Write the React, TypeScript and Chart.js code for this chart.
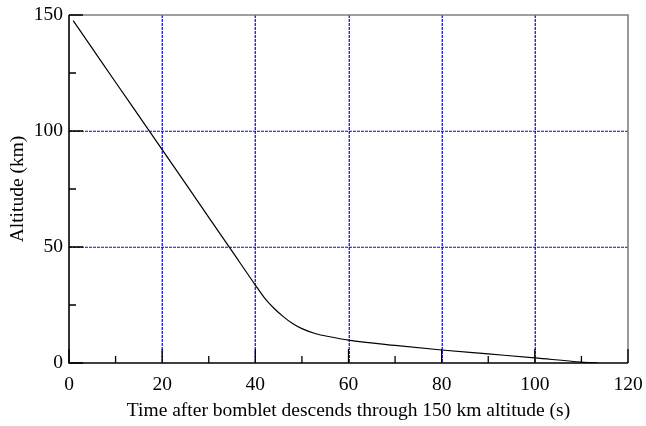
import React, { useEffect, useRef } from "react";
import { Chart, registerables } from "chart.js";

Chart.register(...registerables);

const timeS = [0.9, 5, 10, 15, 20, 25, 30, 35, 40, 42, 44, 46, 48, 50, 53, 56, 60, 70, 80, 90, 100, 110, 113.6];
const altitudeKm = [147.6, 135.6, 121, 106.5, 92, 77.4, 62.8, 48.2, 33.6, 28, 23.6, 20, 17, 14.8, 12.6, 11.3, 9.9, 7.6, 5.6, 3.9, 2.2, 0.4, 0];
const xMajorTicks = [0, 20, 40, 60, 80, 100, 120];
const xMinorTicks = [10, 30, 50, 70, 90, 110];
const yMajorTicks = [0, 50, 100, 150];
const yMinorTicks = [25, 75, 125];
const xGridValues = [20, 40, 60, 80, 100];
const yGridValues = [50, 100];

const FONT = "'Times New Roman', 'Liberation Serif', serif";
const FONT_SIZE = 19.5;
const GRID_BLUE = "#0000ff";

const framePlugin = {
  id: "frameTicks",
  beforeDatasetsDraw(chart: any) {
    const { ctx, chartArea, scales } = chart;
    const { left, right, top, bottom } = chartArea;
    ctx.save();
    ctx.strokeStyle = GRID_BLUE;
    ctx.lineWidth = 1.2;
    ctx.setLineDash([3, 1]);
    ctx.beginPath();
    for (const v of xGridValues) {
      const px = Math.round(scales.x.getPixelForValue(v)) + 0.25;
      ctx.moveTo(px, top);
      ctx.lineTo(px, bottom);
    }
    for (const v of yGridValues) {
      const py = Math.round(scales.y.getPixelForValue(v)) + 0.25;
      ctx.moveTo(left, py);
      ctx.lineTo(right, py);
    }
    ctx.stroke();
    ctx.restore();
  },
  afterDatasetsDraw(chart: any) {
    const { ctx, chartArea, scales } = chart;
    const { left, right, top, bottom } = chartArea;
    const xs = scales.x;
    const ys = scales.y;
    ctx.save();
    ctx.strokeStyle = "#808080";
    ctx.lineWidth = 1.6;
    ctx.beginPath();
    ctx.moveTo(left, top);
    ctx.lineTo(right, top);
    ctx.lineTo(right, bottom);
    ctx.stroke();
    ctx.strokeStyle = "#000";
    ctx.lineWidth = 1.6;
    ctx.beginPath();
    ctx.moveTo(left, top);
    ctx.lineTo(left, bottom);
    ctx.lineTo(right, bottom);
    ctx.stroke();
    ctx.lineWidth = 1.3;
    ctx.beginPath();
    for (const v of xMajorTicks) {
      const px = xs.getPixelForValue(v);
      ctx.moveTo(px, bottom);
      ctx.lineTo(px, bottom - 14);
    }
    for (const v of xMinorTicks) {
      const px = xs.getPixelForValue(v);
      ctx.moveTo(px, bottom);
      ctx.lineTo(px, bottom - 7);
    }
    for (const v of yMajorTicks) {
      const py = ys.getPixelForValue(v);
      ctx.moveTo(left, py);
      ctx.lineTo(left + 14, py);
    }
    for (const v of yMinorTicks) {
      const py = ys.getPixelForValue(v);
      ctx.moveTo(left, py);
      ctx.lineTo(left + 7, py);
    }
    ctx.stroke();
    ctx.restore();
  },
};

export default function App() {
  const ref = useRef<HTMLCanvasElement | null>(null);

  useEffect(() => {
    document.body.style.margin = "0";
    const canvas = ref.current!;
    const chart = new Chart(canvas, {
      type: "line",
      data: {
        datasets: [
          {
            data: timeS.map((t, i) => ({ x: t, y: altitudeKm[i] })),
            borderColor: "#000",
            borderWidth: 1.2,
            pointRadius: 0,
            fill: false,
            cubicInterpolationMode: "monotone",
          },
        ],
      },
      options: {
        animation: false,
        responsive: false,
        maintainAspectRatio: false,
        layout: { padding: { top: 15, right: 18, left: 0, bottom: 0 } },
        plugins: { legend: { display: false }, tooltip: { enabled: false } },
        scales: {
          x: {
            type: "linear",
            min: 0,
            max: 120,
            afterFit(scale: any) {
              scale.height = 63;
              scale.paddingLeft = 0;
              scale.paddingRight = 0;
            },
            border: { display: false },
            grid: { display: false, drawTicks: false },
            ticks: {
              stepSize: 20,
              padding: 10,
              color: "#000",
              font: { family: FONT, size: FONT_SIZE },
              maxRotation: 0,
            },
            title: {
              display: true,
              text: "Time after bomblet descends through 150 km altitude (s)",
              color: "#000",
              font: { family: FONT, size: FONT_SIZE },
              padding: { top: 0, bottom: 3 },
            },
          },
          y: {
            type: "linear",
            min: 0,
            max: 150,
            afterFit(scale: any) {
              scale.width = 69;
              scale.paddingTop = 0;
              scale.paddingBottom = 0;
            },
            border: { display: false },
            grid: { display: false, drawTicks: false },
            ticks: {
              stepSize: 50,
              padding: 6,
              color: "#000",
              font: { family: FONT, size: FONT_SIZE },
            },
            title: {
              display: true,
              text: "Altitude (km)",
              color: "#000",
              font: { family: FONT, size: FONT_SIZE },
              padding: { top: 6, bottom: 0 },
            },
          },
        },
      } as any,
      plugins: [framePlugin],
    });
    return () => chart.destroy();
  }, []);

  return (
    <div style={{ position: "absolute", left: 0, top: 0, width: 646, height: 426, background: "#fff" }}>
      <canvas ref={ref} width={646} height={426} style={{ width: 646, height: 426, display: "block" }} />
    </div>
  );
}
